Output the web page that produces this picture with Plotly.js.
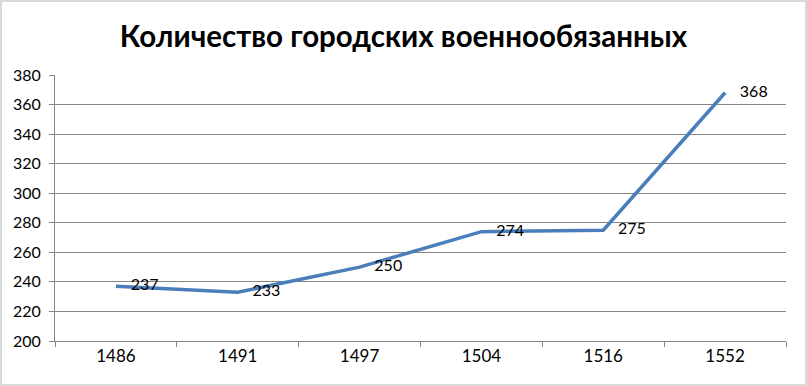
<!DOCTYPE html>
<html>
<head>
<meta charset="utf-8">
<script src="https://cdn.plot.ly/plotly-3.0.1.min.js"></script>
<style>
html,body{margin:0;padding:0;background:#fff;}
#chart{width:803px;height:382px;border:2px solid #d9d9d9;}
</style>
</head>
<body>
<div id="chart"></div>
<script>
var titleText = 'Количество городских военнообязанных';
var years = ['1486', '1491', '1497', '1504', '1516', '1552'];
var counts = [237, 233, 250, 274, 275, 368];
var yTicks = [200, 220, 240, 260, 280, 300, 320, 340, 360, 380];

var trace = {
  x: years,
  y: counts,
  type: 'scatter',
  mode: 'lines+markers+text',
  text: counts.map(String),
  textposition: 'middle right',
  textfont: {family: 'Lato, "Open Sans", sans-serif', size: 16, color: '#000'},
  line: {color: '#4a7ebb', width: 3.5},
  marker: {size: 22, opacity: 0, color: '#4a7ebb'},
  hoverinfo: 'x+y',
  cliponaxis: false
};

var layout = {
  width: 803,
  height: 382,
  margin: {l: 53, r: 19, t: 73, b: 43},
  paper_bgcolor: '#fff',
  plot_bgcolor: '#fff',
  showlegend: false,
  title: {
    text: '<b>' + titleText + '</b>',
    font: {family: 'Lato, "Open Sans", sans-serif', size: 29.5, color: '#000'},
    x: 0.5, xanchor: 'center', y: 0.91, yanchor: 'middle'
  },
  xaxis: {
    type: 'category',
    range: [-0.5, 5.5],
    tickson: 'boundaries',
    ticks: 'outside',
    ticklen: 5,
    tickcolor: '#868686',
    showline: true,
    linecolor: '#868686',
    linewidth: 1,
    showgrid: false,
    zeroline: false,
    tickfont: {family: 'Lato, "Open Sans", sans-serif', size: 17, color: '#000'}
  },
  yaxis: {
    range: [200, 380],
    tickvals: yTicks,
    ticktext: yTicks.map(String),
    ticks: 'outside',
    ticklen: 5,
    tickcolor: '#868686',
    showline: true,
    linecolor: '#868686',
    linewidth: 1,
    showgrid: true,
    gridcolor: '#868686',
    gridwidth: 1,
    zeroline: false,
    ticklabelstandoff: 5,
    tickfont: {family: 'Lato, "Open Sans", sans-serif', size: 16, color: '#000'}
  }
};

Plotly.newPlot('chart', [trace], layout, {displayModeBar: false, staticPlot: true});
</script>
</body>
</html>
